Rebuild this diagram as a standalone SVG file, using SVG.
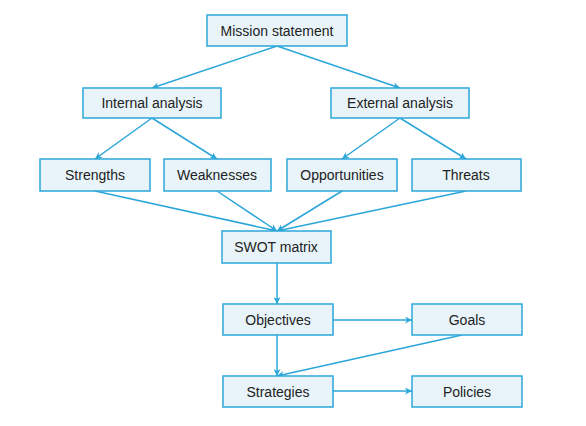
<svg xmlns="http://www.w3.org/2000/svg" width="586" height="426" viewBox="0 0 586 426">
<style>
.box{fill:#e8f4fa;stroke:#2ba6d9;stroke-width:1.5}
.lbl{font-family:"Liberation Sans",Arial,sans-serif;font-size:14px;fill:#222;text-anchor:middle;dominant-baseline:central}
.con{stroke:#2ba6d9;stroke-width:1.5;fill:none;marker-end:url(#ah)}
</style>
<defs>
<marker id="ah" viewBox="0 0 10 10" refX="10" refY="5" markerWidth="7" markerHeight="7" markerUnits="userSpaceOnUse" orient="auto">
<path d="M0,0 L10,5 L0,10 L3,5 Z" fill="#2ba6d9"/>
</marker>
</defs>
<rect width="586" height="426" fill="#fff"/>
<g id="connectors">
<line class="con" x1="277" y1="46" x2="152" y2="88"/>
<line class="con" x1="277" y1="46" x2="400" y2="88"/>
<line class="con" x1="152" y1="118" x2="95" y2="159"/>
<line class="con" x1="152" y1="118" x2="217" y2="159"/>
<line class="con" x1="400" y1="118" x2="342" y2="159"/>
<line class="con" x1="400" y1="118" x2="466" y2="159"/>
<line class="con" x1="95" y1="191" x2="277" y2="231"/>
<line class="con" x1="217" y1="191" x2="277" y2="231"/>
<line class="con" x1="342" y1="191" x2="277" y2="231"/>
<line class="con" x1="466" y1="191" x2="277" y2="231"/>
<line class="con" x1="277" y1="263" x2="277" y2="304"/>
<line class="con" x1="333" y1="320" x2="412" y2="320"/>
<line class="con" x1="277" y1="335" x2="277" y2="376"/>
<line class="con" x1="462" y1="335" x2="277" y2="376"/>
<line class="con" x1="333" y1="391" x2="412" y2="391"/>
</g>
<g id="mission"><rect class="box" x="207" y="15" width="140" height="31"/><text class="lbl" x="277" y="31">Mission statement</text></g>
<g id="internal"><rect class="box" x="83" y="88" width="138" height="30"/><text class="lbl" x="152" y="103">Internal analysis</text></g>
<g id="external"><rect class="box" x="331" y="88" width="138" height="30"/><text class="lbl" x="400" y="103">External analysis</text></g>
<g id="strengths"><rect class="box" x="40" y="159" width="110" height="32"/><text class="lbl" x="95" y="175">Strengths</text></g>
<g id="weaknesses"><rect class="box" x="164" y="159" width="107" height="32"/><text class="lbl" x="217" y="175">Weaknesses</text></g>
<g id="opportunities"><rect class="box" x="287" y="159" width="110" height="32"/><text class="lbl" x="342" y="175">Opportunities</text></g>
<g id="threats"><rect class="box" x="412" y="159" width="109" height="32"/><text class="lbl" x="466" y="175">Threats</text></g>
<g id="swot"><rect class="box" x="222" y="231" width="109" height="32"/><text class="lbl" x="276" y="247">SWOT matrix</text></g>
<g id="objectives"><rect class="box" x="223" y="304" width="110" height="31"/><text class="lbl" x="278" y="320">Objectives</text></g>
<g id="goals"><rect class="box" x="412" y="304" width="110" height="31"/><text class="lbl" x="467" y="320">Goals</text></g>
<g id="strategies"><rect class="box" x="223" y="376" width="110" height="31"/><text class="lbl" x="278" y="392">Strategies</text></g>
<g id="policies"><rect class="box" x="412" y="376" width="110" height="31"/><text class="lbl" x="467" y="392">Policies</text></g>
</svg>
